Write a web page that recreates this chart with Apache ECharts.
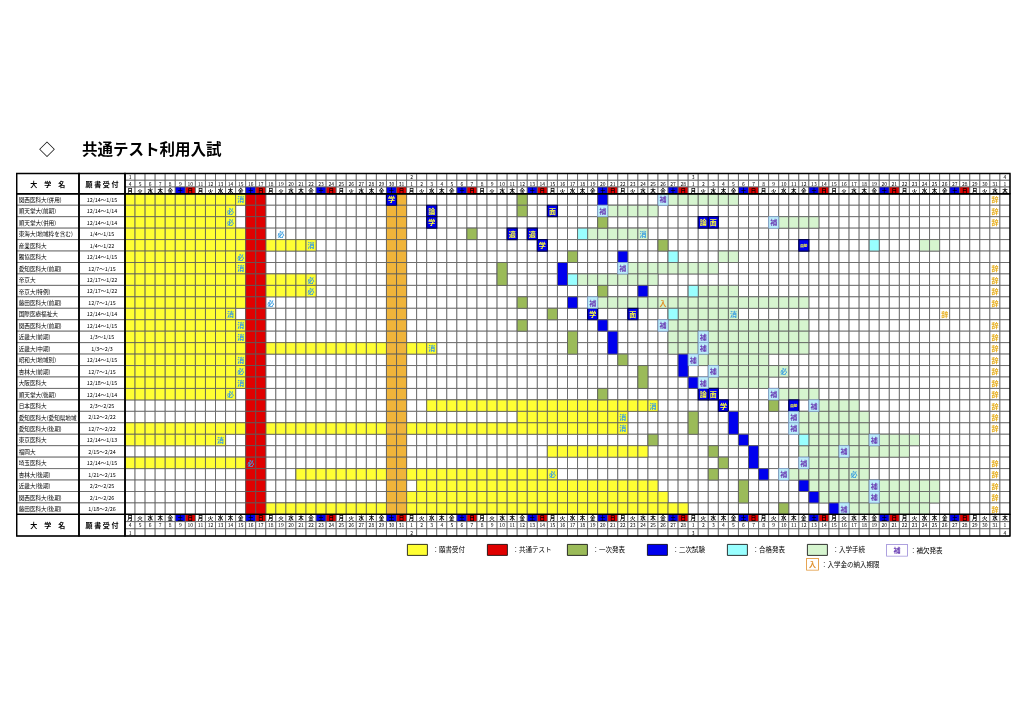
<!DOCTYPE html>
<html><head><meta charset="utf-8">
<script src="https://cdn.jsdelivr.net/npm/echarts@6/dist/echarts.min.js"></script>
<style>html,body{margin:0;padding:0;background:#fff}#c{width:1024px;height:723px}</style>
</head><body><div id="c"></div>
<script>
const FONT = '"Noto Sans CJK JP", "Noto Sans", sans-serif';

// ---------- categories ----------
const monthSpans = [[1, 4, 31], [2, 1, 28], [3, 1, 31], [4, 1, 1]]; // month, first day shown, last day shown
const weekdayNames = ['月', '火', '水', '木', '金', '土', '日'];
const dateKeys = [], dayNumbers = [], monthMarks = [], weekdays = [];
monthSpans.forEach(([m, d0, d1]) => {
  for (let d = d0; d <= d1; d++) {
    dateKeys.push(m + '/' + d);
    dayNumbers.push(String(d));
    monthMarks.push(d === d0 ? String(m) : '');
    weekdays.push(weekdayNames[(dateKeys.length - 1) % 7]);
  }
});

const universities = [
  '関西医科大(併用)', '順天堂大(前期)', '順天堂大(併用)', '東海大(地域枠を含む)', '産業医科大',
  '獨協医科大', '愛知医科大(前期)', '帝京大', '帝京大(特例)', '藤田医科大(前期)',
  '国際医療福祉大', '関西医科大(前期)', '近畿大(前期)', '近畿大(中期)', '昭和大(地域別)',
  '杏林大(前期)', '大阪医科大', '順天堂大(後期)', '日本医科大', '愛知医科大(愛知県地域枠特別)',
  '愛知医科大(後期)', '東京医科大', '福岡大', '埼玉医科大', '杏林大(後期)',
  '近畿大(後期)', '関西医科大(後期)', '藤田医科大(後期)'
];
const periods = [
  '12/14～1/15', '12/14～1/14', '12/14～1/14', '1/4～1/15', '1/4～1/22',
  '12/14～1/15', '12/7～1/15', '12/17～1/22', '12/17～1/22', '12/7～1/15',
  '12/14～1/14', '12/14～1/15', '1/3～1/15', '1/3～2/3', '12/14～1/15',
  '12/7～1/15', '12/18～1/15', '12/14～1/14', '2/3～2/25', '2/12～2/22',
  '12/7～2/22', '12/14～1/13', '2/15～2/24', '12/14～1/15', '1/21～2/15',
  '2/2～2/25', '2/1～2/26', '1/18～2/26'
];

// [row, from, to]
const applyRanges = [
  [0, '1/4', '1/15'], [1, '1/4', '1/14'], [2, '1/4', '1/14'], [3, '1/4', '1/15'],
  [4, '1/4', '1/15'], [4, '1/18', '1/22'], [5, '1/4', '1/15'], [6, '1/4', '1/15'],
  [7, '1/4', '1/15'], [7, '1/18', '1/22'], [8, '1/4', '1/15'], [8, '1/18', '1/22'],
  [9, '1/4', '1/15'], [10, '1/4', '1/14'], [11, '1/4', '1/15'], [12, '1/4', '1/15'],
  [13, '1/4', '1/15'], [13, '1/18', '2/3'], [14, '1/4', '1/15'], [15, '1/4', '1/15'],
  [16, '1/4', '1/15'], [17, '1/4', '1/14'], [18, '2/3', '2/25'], [19, '2/12', '2/22'],
  [20, '1/4', '1/15'], [20, '1/18', '2/22'], [21, '1/4', '1/13'], [22, '2/15', '2/24'],
  [23, '1/4', '1/15'], [24, '1/21', '2/15'], [25, '2/2', '2/25'], [26, '2/1', '2/26'],
  [27, '1/18', '2/28']
];
const testDays = ['1/16', '1/17'];
const otherDays = ['1/30', '1/31'];
// [row, date, rows spanned]
const firstDates = [
  [0, '2/12', 1], [1, '2/12', 1], [2, '2/20', 1], [3, '2/7', 1], [4, '2/26', 1],
  [5, '2/17', 1], [6, '2/10', 2], [8, '2/20', 1], [9, '2/12', 1], [10, '2/15', 1],
  [11, '2/12', 1], [12, '2/17', 2], [14, '2/22', 1], [15, '2/24', 2], [17, '2/20', 1],
  [18, '3/9', 1], [19, '3/1', 2], [21, '2/25', 1], [22, '3/3', 1], [23, '3/4', 1],
  [24, '3/3', 1], [25, '3/6', 2], [27, '3/10', 1]
];
// [row, date, rows spanned, label]
const secondDates = [
  [0, '1/30', 1, '学'], [0, '2/20', 1, ''], [1, '2/3', 1, '論'], [1, '2/15', 1, '面'],
  [2, '2/3', 1, '学'], [2, '3/2', 1, '論'], [2, '3/3', 1, '面'], [3, '2/11', 1, '適'],
  [3, '2/13', 1, '適'], [4, '2/14', 1, '学'], [4, '3/12', 1, '面接'], [5, '2/22', 1, ''],
  [6, '2/16', 2, ''], [8, '2/24', 1, ''], [9, '2/17', 1, ''], [10, '2/19', 1, '学'],
  [10, '2/23', 1, '面'], [11, '2/20', 1, ''], [12, '2/21', 2, ''], [14, '2/28', 2, ''],
  [16, '3/1', 1, ''], [17, '3/2', 1, '論'], [17, '3/3', 1, '面'], [18, '3/4', 1, '学'],
  [18, '3/11', 1, '面接'], [19, '3/5', 2, ''], [21, '3/6', 1, ''], [22, '3/7', 2, ''],
  [24, '3/8', 1, ''], [25, '3/12', 1, ''], [26, '3/13', 1, ''], [27, '3/15', 1, '']
];
const passDates = [[3, '2/18'], [4, '3/19'], [5, '2/27'], [7, '2/17'], [8, '3/1'], [10, '2/27'], [21, '3/12']];
const enrollRanges = [
  [0, '2/27', '3/5'], [1, '2/21', '2/25'], [2, '3/10', '3/13'], [3, '2/19', '2/24'],
  [4, '3/24', '3/25'], [5, '3/4', '3/5'], [6, '2/23', '3/3'], [7, '2/18', '2/25'],
  [8, '3/2', '3/5'], [9, '2/20', '3/12'], [10, '2/28', '3/5'], [11, '2/27', '3/12'],
  [12, '2/27', '3/12'], [13, '2/27', '3/12'], [14, '3/2', '3/8'], [15, '3/4', '3/10'],
  [16, '3/3', '3/8'], [17, '3/10', '3/13'], [18, '3/14', '3/17'], [19, '3/12', '3/18'],
  [20, '3/12', '3/18'], [21, '3/13', '3/23'], [22, '3/12', '3/22'], [23, '3/13', '3/18'],
  [24, '3/11', '3/18'], [25, '3/13', '3/25'], [26, '3/14', '3/25'], [27, '3/17', '3/24']
];
const hoketsuDates = [
  [0, '2/26'], [1, '2/20'], [2, '3/9'], [6, '2/22'], [9, '2/19'], [11, '2/26'], [12, '3/2'],
  [13, '3/2'], [14, '3/1'], [15, '3/3'], [16, '3/2'], [17, '3/9'], [18, '3/13'], [19, '3/11'],
  [20, '3/11'], [21, '3/19'], [22, '3/16'], [23, '3/12'], [24, '3/10'], [25, '3/19'],
  [26, '3/19'], [27, '3/16']
];
// [row, date, text]  消 = 消印有効, 必 = 必着
const deadlineMarks = [
  [0, '1/15', '消'], [1, '1/14', '必'], [2, '1/14', '必'], [3, '1/19', '必'], [4, '1/22', '消'],
  [5, '1/15', '必'], [6, '1/15', '消'], [7, '1/22', '必'], [8, '1/22', '必'], [9, '1/18', '必'],
  [10, '1/14', '消'], [11, '1/15', '消'], [12, '1/15', '消'], [13, '2/3', '消'], [14, '1/15', '消'],
  [15, '1/15', '必'], [16, '1/15', '消'], [17, '1/14', '必'], [18, '2/25', '消'], [19, '2/22', '消'],
  [20, '2/22', '消'], [21, '1/13', '消'], [23, '1/16', '必'], [24, '2/15', '必'],
  [3, '2/24', '消'], [10, '3/5', '消'], [15, '3/10', '必'], [24, '3/17', '必']
];
const nyuDates = [[9, '2/26']];
const jitaiDates = [
  [0, '3/31'], [1, '3/31'], [2, '3/31'], [6, '3/31'], [7, '3/31'], [8, '3/31'], [9, '3/31'],
  [10, '3/26'], [11, '3/31'], [12, '3/31'], [13, '3/31'], [14, '3/31'], [15, '3/31'], [16, '3/31'],
  [17, '3/31'], [18, '3/31'], [19, '3/31'], [20, '3/31'], [23, '3/31'], [24, '3/31'], [25, '3/31'],
  [26, '3/31'], [27, '3/31']
];
const legendNames = ['願書受付', '共通テスト', '一次発表', '二次試験', '合格発表', '入学手続', '補欠発表', '入学金の納入期限'];

// ---------- helpers ----------
const col = k => dateKeys.indexOf(k);
const C = {
  apply: '#ffff33', test: '#e00000', other: '#f0b43a', first: '#9bbb59', second: '#0000ee',
  pass: '#99ffff', enroll: '#d6f5cf', hoketsu: '#bdf0fb', sat: '#0000ee', sun: '#e00000',
  line: '#5c5c5c'
};
const X0 = 16.7, X1 = 79, X2 = 125, X3 = 1010;
const Y0 = 173.5, Y1 = 193.8, Y2 = 514.4, Y3 = 536;

function box(api, c, r, cs, rs) {
  const p = api.coord([c, r]);
  const s = api.size([1, 1]);
  return { x: p[0] - s[0] / 2, y: p[1] - s[1] / 2, width: s[0] * cs, height: s[1] * rs };
}
// items: {c, r, cs, rs, fill, text, color, size, weight, align, stroke}
function cellSeries(name, grid, items, z, extra) {
  return Object.assign({
    type: 'custom', name, xAxisIndex: grid, yAxisIndex: grid, z, animation: false, silent: true,
    encode: { x: 0, y: 1 },
    data: items.map(it => [it.c, it.r]),
    renderItem(params, api) {
      const it = items[params.dataIndex];
      const b = box(api, it.c, it.r, it.cs || 1, it.rs || 1);
      const ch = [];
      if (it.fill) ch.push({ type: 'rect', shape: b, style: { fill: it.fill, stroke: it.stroke || C.line, lineWidth: it.lw || 0.8 } });
      if (it.text) ch.push({
        type: 'text', style: {
          text: it.text, x: it.align === 'left' ? b.x + 2 : b.x + b.width / 2, y: b.y + b.height / 2 + 0.3,
          align: it.align || 'center', verticalAlign: 'middle', fill: it.color || '#000',
          fontSize: it.size || 6, fontWeight: it.weight || 'normal', fontFamily: FONT,
          width: it.align === 'left' ? b.width - 3 : undefined, overflow: it.align === 'left' ? 'truncate' : undefined, ellipsis: ''
        }
      });
      return { type: 'group', children: ch };
    }
  }, extra || {});
}

// ---------- grids ----------
const colsX = [[X0, X1], [X1, X2], [X2, X3]];
const rowsY = [[Y0, Y1], [Y1, Y2], [Y2, Y3]];
const grids = [], xAxes = [], yAxes = [];
const headRows = ['month', 'date', 'dow'], footRows = ['dow', 'date', 'month'];
rowsY.forEach((ry, ri) => colsX.forEach((cx, ci) => {
  grids.push({ left: cx[0], top: ry[0], width: cx[1] - cx[0], height: ry[1] - ry[0], show: true, borderColor: '#000', borderWidth: 1.4, backgroundColor: 'transparent', z: 20 });
  const gi = grids.length - 1;
  xAxes.push({ type: 'category', gridIndex: gi, show: false, data: ci === 2 ? dateKeys : ['c'] });
  let yd = ['h'];
  if (ri === 1) yd = universities;
  else if (ci === 2) yd = ri === 0 ? headRows : footRows;
  yAxes.push({ type: 'category', gridIndex: gi, show: false, inverse: true, data: yd });
}));
// grid indexes: 0 hn,1 hp,2 hd,3 bn,4 bp,5 bd,6 fn,7 fp,8 fd

const series = [];
// header / footer left cells
[[0, '大　学　名'], [1, '願 書 受 付'], [6, '大　学　名'], [7, '願 書 受 付']].forEach(([g, t]) =>
  series.push(cellSeries('head' + g, g, [{ c: 0, r: 0, fill: '#fff', text: t, size: 7, weight: 'bold' }], 2)));
// date header / footer
function dateRowItems(rowsDef) {
  const items = [];
  dateKeys.forEach((k, c) => rowsDef.forEach((kind, r) => {
    let text = kind === 'month' ? monthMarks[c] : kind === 'date' ? dayNumbers[c] : weekdays[c];
    let fill = '#fff';
    if (kind === 'dow' && weekdays[c] === '土') fill = C.sat;
    if (kind === 'dow' && weekdays[c] === '日') fill = C.sun;
    items.push({ c, r, fill, text, size: kind === 'dow' ? 5.5 : 5, weight: kind === 'dow' ? 'bold' : 'normal' });
  }));
  return items;
}
series.push(cellSeries('hdates', 2, dateRowItems(headRows), 2));
series.push(cellSeries('fdates', 8, dateRowItems(footRows), 2));
// names & periods
series.push(cellSeries('names', 3, universities.map((n, r) => ({ c: 0, r, fill: '#fff', text: n, size: 5.6, align: 'left' })), 2));
series.push(cellSeries('periods', 4, periods.map((p, r) => ({ c: 0, r, fill: '#fff', text: p, size: 5.4 })), 2));

// body background
const bg = [];
universities.forEach((u, r) => dateKeys.forEach((k, c) => bg.push({ c, r, fill: '#fff' })));
series.push(cellSeries('bg', 5, bg, 1));

const G = 5;
const applyItems = [];
applyRanges.forEach(([r, a, b]) => { for (let c = col(a); c <= col(b); c++) applyItems.push({ c, r, fill: C.apply }); });
series.push(cellSeries(legendNames[0], G, applyItems, 2, { itemStyle: { color: C.apply } }));

const enrollItems = [];
enrollRanges.forEach(([r, a, b]) => { for (let c = col(a); c <= col(b); c++) enrollItems.push({ c, r, fill: C.enroll }); });
series.push(cellSeries(legendNames[5], G, enrollItems, 3, { itemStyle: { color: C.enroll } }));

const testItems = [], otherItems = [];
universities.forEach((u, r) => {
  testDays.forEach(d => testItems.push({ c: col(d), r, fill: C.test }));
  otherDays.forEach(d => otherItems.push({ c: col(d), r, fill: C.other }));
});
series.push(cellSeries(legendNames[1], G, testItems, 3, { itemStyle: { color: C.test } }));
series.push(cellSeries('other', G, otherItems, 3, { itemStyle: { color: C.other } }));

series.push(cellSeries(legendNames[2], G, firstDates.map(([r, d, s]) => ({ c: col(d), r, rs: s, fill: C.first })), 4, { itemStyle: { color: C.first } }));
series.push(cellSeries(legendNames[4], G, passDates.map(([r, d]) => ({ c: col(d), r, fill: C.pass })), 4, { itemStyle: { color: C.pass } }));
series.push(cellSeries(legendNames[3], G, secondDates.map(([r, d, s, t]) => ({
  c: col(d), r, rs: s, fill: C.second, text: t, color: '#ffff40', weight: 'bold', size: t.length > 1 ? 3.6 : 7,
  stroke: t ? '#000050' : C.line, lw: t ? 1.2 : 0.8
})), 5, { itemStyle: { color: C.second } }));
series.push(cellSeries(legendNames[6], G, hoketsuDates.map(([r, d]) => ({
  c: col(d), r, fill: C.hoketsu, text: '補', color: '#6b3fb5', weight: 'bold', size: 7, stroke: '#7f9fd0'
})), 5, { itemStyle: { color: C.hoketsu } }));
series.push(cellSeries(legendNames[7], G, nyuDates.map(([r, d]) => ({ c: col(d), r, text: '入', color: '#e0902a', size: 7, weight: 'bold' })), 6, { itemStyle: { color: '#fff' } }));
series.push(cellSeries('deadline', G, deadlineMarks.map(([r, d, t]) => ({ c: col(d), r, text: t, color: '#3d9fe0', size: 7, weight: 'bold' })), 6));
series.push(cellSeries('jitai', G, jitaiDates.map(([r, d]) => ({ c: col(d), r, text: '辞', color: '#e8b020', size: 7, weight: 'bold' })), 6));

// ---------- legends ----------
const legendPos = [[407, 544], [487, 544], [567, 544], [647, 544], [727, 544], [807, 544], [882, 544], [802, 558]];
const legends = legendNames.map((n, i) => {
  const base = {
    left: legendPos[i][0], top: legendPos[i][1], itemWidth: 20, itemHeight: 11, icon: 'rect', selectedMode: false,
    padding: 0, data: [n], itemStyle: { borderColor: '#000', borderWidth: 0.8 },
    textStyle: { fontSize: 6.5, fontFamily: FONT, color: '#000' }, formatter: '：{name}'
  };
  if (i >= 6) {
    const glyph = i === 6 ? '補' : '入';
    base.data = [{ name: n, icon: 'none' }];
    base.itemWidth = 0;
    base.formatter = '{g|' + glyph + '}{t|：' + n + '}';
    base.textStyle.rich = {
      g: i === 6
        ? { width: 20, height: 11, align: 'center', backgroundColor: '#fff', borderColor: '#9a8ad8', borderWidth: 0.8, color: '#6b3fb5', fontSize: 7, fontWeight: 'bold', fontFamily: FONT }
        : { width: 11, height: 11, align: 'center', backgroundColor: '#fff', borderColor: '#e0902a', borderWidth: 0.8, color: '#e0902a', fontSize: 7, fontWeight: 'bold', fontFamily: FONT },
      t: { fontSize: 6.5, fontFamily: FONT, color: '#000', padding: [0, 0, 0, 3] }
    };
  }
  return base;
});

const chart = echarts.init(document.getElementById('c'), null, { renderer: 'canvas' });
chart.setOption({
  animation: false,
  backgroundColor: '#fff',
  title: {
    left: 34, top: 136, text: '{a|◇}{b|共通テスト利用入試}',
    textStyle: { rich: {
      a: { fontSize: 16, fontFamily: FONT, color: '#000', width: 43 },
      b: { fontSize: 15.5, fontWeight: 'bold', fontFamily: FONT, color: '#000' }
    } }
  },
  legend: legends,
  grid: grids, xAxis: xAxes, yAxis: yAxes, series
});
</script></body></html>
